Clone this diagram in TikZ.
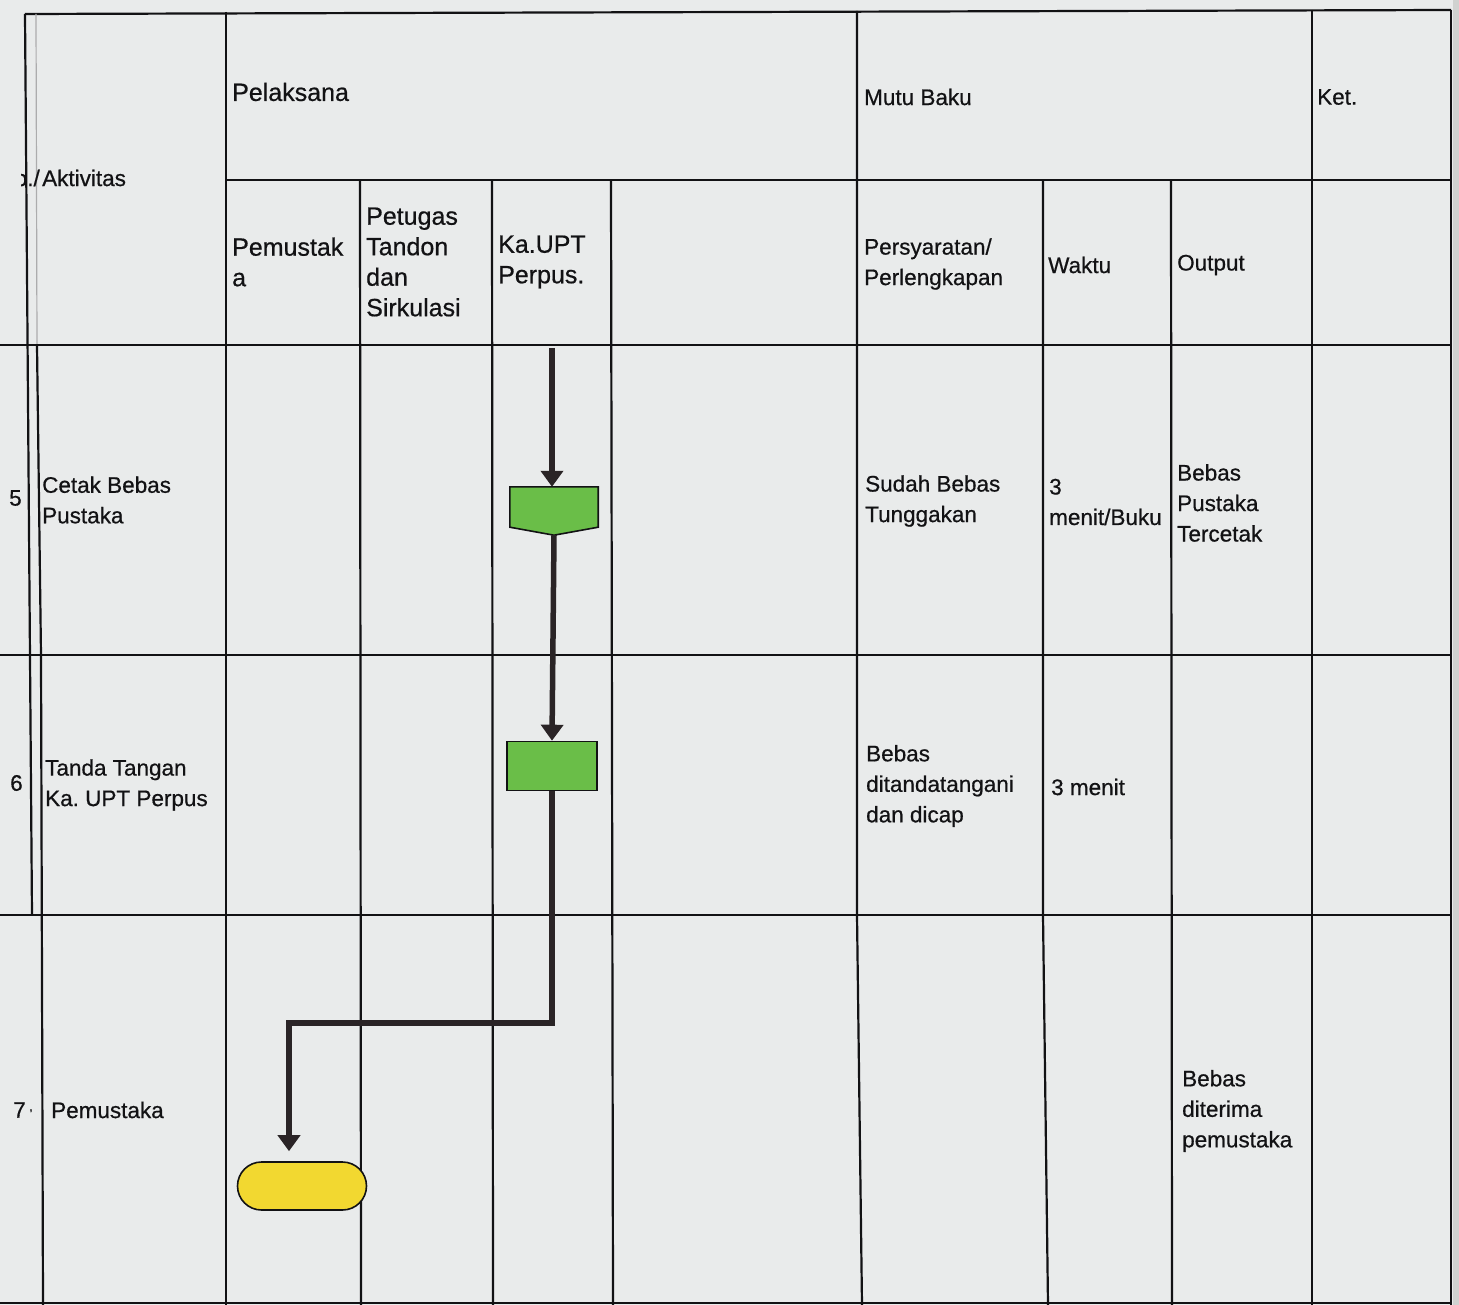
\documentclass[tikz,border=0pt]{standalone}
\usepackage{fontspec}
\setmainfont{Liberation Sans}[FakeBold=0.6]
\usetikzlibrary{arrows.meta}
\definecolor{bg}{RGB}{233,235,235}
\definecolor{edgebg}{RGB}{208,210,208}
\definecolor{ink}{RGB}{18,18,20}
\definecolor{flowink}{RGB}{42,36,38}
\definecolor{procgreen}{RGB}{106,190,72}
\definecolor{termyellow}{RGB}{242,216,48}
\frenchspacing
\begin{document}
\begin{tikzpicture}[x=1pt,y=-1pt,
  grid/.style={draw=ink,line width=2.2pt},
  faint/.style={draw=ink!35,line width=1.2pt},
  txt/.style={anchor=west,align=left,inner sep=0pt,text=ink,font=\fontsize{22.5}{30.5}\selectfont},
  txtbig/.style={txt,font=\fontsize{25}{30.5}\selectfont},
  flow/.style={draw=flowink,line width=5.5pt,-{Triangle[width=22pt,length=16pt]}},
  procbox/.style={draw=ink,line width=1.6pt,fill=procgreen,minimum width=90pt,minimum height=49pt,inner sep=0pt},
  termbox/.style={draw=ink,line width=1.6pt,fill=termyellow,rounded corners=24pt,minimum width=129pt,minimum height=48pt,inner sep=0pt},
  anchorbox/.style={draw=none,fill=none,minimum width=88pt,minimum height=48pt,inner sep=0pt}]

\useasboundingbox (0,0) rectangle (1459,1305);
\fill[bg] (0,0) rectangle (1459,1305);
\fill[edgebg] (1453,0) rectangle (1459,1305);

% ---------- grid ----------
% outer top
\draw[grid] (25,14) -- (1451,10);
% left borders
\draw[grid] (25,14) -- (32,915);
\draw[faint] (36,14) -- (37,345);
\draw[grid] (37,345) -- (41,655) -- (43,1305);
% horizontal lines
\draw[grid] (226,180) -- (1451,180);
\draw[grid] (0,345) -- (1451,345);
\draw[grid] (0,655) -- (1451,655);
\draw[grid] (0,915) -- (1451,915);
\draw[grid] (0,1303) -- (1451,1303);
% verticals
\draw[grid] (226,12) -- (226,1305);
\draw[grid] (360,180) -- (361,1305);
\draw[grid] (492,180) -- (493,1305);
\draw[grid] (611,180) -- (613,1305);
\draw[grid] (857,11) -- (857,915) -- (862,1305);
\draw[grid] (1043,180) -- (1043,915) -- (1048,1305);
\draw[grid] (1171,180) -- (1172,1305);
\draw[grid] (1312,10) -- (1312,1305);
\draw[grid] (1451,10) -- (1451,1305);

% ---------- header texts ----------
\begin{scope}
  \clip (21,0) rectangle (1459,1305);
  \node[txt,anchor=east] (nolabel) at (40,178) {o./};
\end{scope}
\node[txt] (aktivitas) at (42,178) {Aktivitas};
\node[txtbig] (pelaksana) at (232,92) {Pelaksana};
\node[txtbig] (hpemustaka) at (232,262) {Pemustak\\a};
\node[txtbig] (hpetugas) at (366,262) {Petugas\\Tandon\\dan\\Sirkulasi};
\node[txtbig] (hkaupt) at (498,262) {Ka.UPT\\Perpus.};
\node[txt] (mutubaku) at (864,97) {Mutu Baku};
\node[txt] (ket) at (1317,97) {Ket.};
\node[txt] (persyaratan) at (864,264) {Persyaratan/\\Perlengkapan};
\node[txt] (waktu) at (1048,265) {Waktu};
\node[txt] (output) at (1177,265) {Output};

% ---------- row 5 ----------
\node[txt] (n5) at (9,498) {5};
\node[txt] (a5) at (42,500) {Cetak Bebas\\Pustaka};
\node[txt] (p5) at (865,501) {Sudah Bebas\\Tunggakan};
\node[txt] (w5) at (1049,502) {3\\menit/Buku};
\node[txt] (o5) at (1177,503) {Bebas\\Pustaka\\Tercetak};

% ---------- row 6 ----------
\node[txt] (n6) at (10,783) {6};
\node[txt] (a6) at (45,785) {Tanda Tangan\\Ka. UPT Perpus};
\node[txt] (p6) at (866,786) {Bebas\\ditandatangani\\dan dicap};
\node[txt] (w6) at (1051,787) {3 menit};

% ---------- row 7 ----------
\node[txt] (n7) at (13,1110) {7\hspace{4pt}{\fontsize{12}{12}\selectfont '}};
\node[txt] (a7) at (51,1110) {Pemustaka};
\node[txt] (o7) at (1182,1111) {Bebas\\diterima\\pemustaka};

% ---------- flow shapes ----------
\node[anchorbox] (s5) at (554,511) {};
\filldraw[draw=ink,line width=1.6pt,fill=procgreen]
  (s5.north west) -- (s5.north east) -- ([yshift=8pt]s5.south east)
  -- (s5.south) -- ([yshift=8pt]s5.south west) -- cycle;
\node[procbox] (s6) at (552,766) {};
\node[termbox] (t7) at (302,1186) {};

% ---------- connectors ----------
\coordinate (start) at (552,348);
\coordinate (elbow) at (289,1023);
\draw[flow] (start) -- (start |- s5.north);
\draw[flow] (s5.south) -- (s6.north);
\draw[flow,shorten >=10pt] (s6.south) |- (elbow) -- (elbow |- t7.north);
\end{tikzpicture}
\end{document}
